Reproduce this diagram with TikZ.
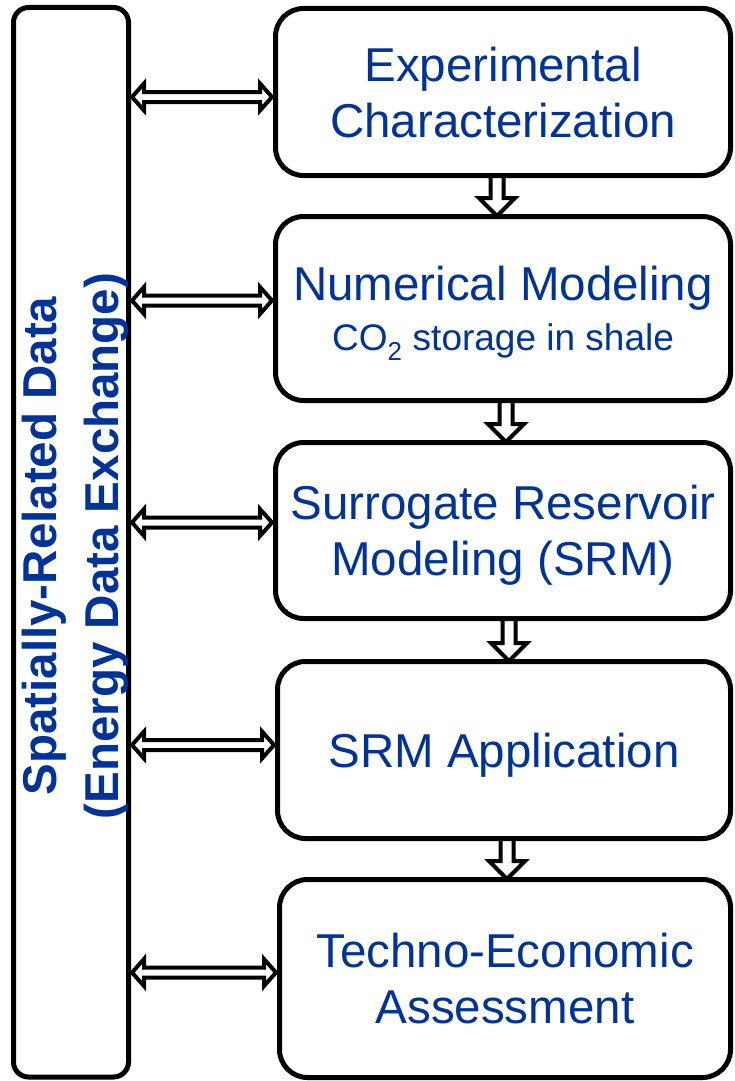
\documentclass[tikz,border=0pt]{standalone}
\usepackage{fontspec}
\setmainfont{Liberation Sans}
\usetikzlibrary{calc, backgrounds}

\definecolor{edxblue}{RGB}{0,51,153}

\begin{document}
\begin{tikzpicture}[x=1pt, y=1pt, line join=miter]

  % Styles
  \tikzset{
    stage/.style={draw, line width=5pt, rounded corners=28pt, align=center,
      text=edxblue, font=\fontsize{47.5}{56}\selectfont, inner sep=0pt, text depth=0pt},
    side-box/.style={draw, line width=5pt, rounded corners=15pt},
    side-text/.style={text=edxblue, align=center, rotate=90,
      font=\bfseries\fontsize{47.5}{62}\selectfont},
    block-arrow/.style={draw, line width=4pt},
  }

  \useasboundingbox (0,0) rectangle (735,-1081);

  % Data column
  \node[side-box, minimum width=115pt, minimum height=1069.5pt] (side) at (71,-542.25) {};
  \node[side-text] (sidelabel) at (75,-546) {Spatially-Related Data\\(Energy Data Exchange)};

  % Workflow stages
  \node[stage, minimum width=455pt, minimum height=167pt] (exp) at (503,-92)
    {Experimental\\Characterization};
  \node[stage, minimum width=455pt, minimum height=184pt] (num) at (503,-308.5)
    {Numerical Modeling\\[-6pt]{\fontsize{37}{44}\selectfont CO\textsubscript{2} storage in shale}};
  \node[stage, minimum width=455pt, minimum height=176pt] (srm) at (503,-530.5)
    {Surrogate Reservoir\\Modeling (SRM)};
  \node[stage, minimum width=453pt, minimum height=177pt] (app) at (504,-750)
    {SRM Application};
  \node[stage, minimum width=451pt, minimum height=198pt] (tea) at (505,-978.5)
    {Techno-Economic\\Assessment};

  \begin{scope}[on background layer]
    % Stage to stage
    \foreach \a/\b/\dx in {exp/num/-6, num/srm/3, srm/app/6, app/tea/3} {
      \draw[block-arrow] let \p1 = ([xshift=\dx pt]\a.south), \p2 = (\b.north) in
        (\x1-6.5pt,\y1) -- (\x1-6.5pt,\y2+16pt) -- (\x1-18pt,\y2+16pt) -- (\x1,\y2-2pt)
        -- (\x1+18pt,\y2+16pt) -- (\x1+6.5pt,\y2+16pt) -- (\x1+6.5pt,\y1);
    }
    % Data exchange with every stage
    \foreach \b/\dy in {exp/-5, num/8, srm/8, app/5, tea/6} {
      \draw[block-arrow] let \p1 = (side.east), \p2 = ([yshift=\dy pt]\b.west) in
        (\x1+1pt,\y2) -- (\x1+13pt,\y2+13.5pt) -- (\x1+13pt,\y2+5pt) -- (\x2-13pt,\y2+5pt)
        -- (\x2-13pt,\y2+13.5pt) -- (\x2-1pt,\y2) -- (\x2-13pt,\y2-13.5pt) -- (\x2-13pt,\y2-5pt)
        -- (\x1+13pt,\y2-5pt) -- (\x1+13pt,\y2-13.5pt) -- cycle;
    }
  \end{scope}

\end{tikzpicture}
\end{document}
